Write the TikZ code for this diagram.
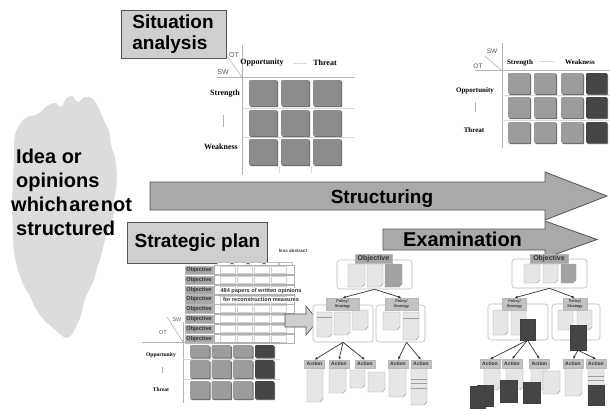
\documentclass[tikz,border=0pt]{standalone}
\usepackage{fontspec}
\setmainfont{Liberation Serif}
\setsansfont{Liberation Sans}
\usetikzlibrary{arrows.meta,calc}

\definecolor{titlefill}{HTML}{CFCFCF}
\definecolor{framecol}{HTML}{555555}
\definecolor{arrowfill}{HTML}{A9A9A9}
\definecolor{cloudfill}{HTML}{DCDCDC}
\definecolor{cellmid}{HTML}{8C8C8C}
\definecolor{celllight}{HTML}{9C9C9C}
\definecolor{celldark}{HTML}{454545}
\definecolor{cellshade}{HTML}{6A6A6A}
\definecolor{sheetfill}{HTML}{E6E6E6}
\definecolor{sheetline}{HTML}{A0A0A0}
\definecolor{sheetmid}{HTML}{A2A2A2}
\definecolor{tagfill}{HTML}{C2C2C2}
\definecolor{tagdark}{HTML}{A6A6A6}
\definecolor{axiscol}{HTML}{B4B4B4}

% bevelled matrix cell: x1 y1 x2 y2 colour
\newcommand{\cellbox}[5]{%
  \fill[cellshade, rounded corners=1pt] (#1+1.2,#2+1.2) rectangle (#3+1.2,#4+1.2);
  \fill[#5, rounded corners=1pt] (#1,#2) rectangle (#3,#4);}
% sheet of paper with a folded corner: x1 y1 x2 y2 colour
\newcommand{\sheet}[5]{%
  \filldraw[draw=sheetline, fill=#5, line width=0.4pt]
    (#1,#2) -- (#3,#2) -- (#3,#4-3) -- (#3-3,#4) -- (#1,#4) -- cycle;}

\begin{document}
\begin{tikzpicture}[x=1pt,y=-1pt,
  titlebox/.style={draw=framecol, fill=titlefill, line width=0.8pt,
    font=\sffamily\bfseries\fontsize{19}{21}\selectfont, inner sep=0pt},
  bigtext/.style={font=\sffamily\bfseries\fontsize{19}{21}\selectfont, inner sep=0pt},
  cloudtext/.style={font=\sffamily\bfseries\fontsize{20}{23}\selectfont, inner sep=0pt, anchor=base west},
  axislabel/.style={font=\bfseries\fontsize{8}{9}\selectfont, inner sep=0pt},
  smalllabel/.style={font=\bfseries\fontsize{7}{8}\selectfont, inner sep=0pt},
  tinylabel/.style={font=\bfseries\fontsize{5.5}{6}\selectfont, inner sep=0pt},
  swlabel/.style={font=\sffamily\fontsize{7}{8}\selectfont, text=black!65, inner sep=0pt},
  axisline/.style={draw=axiscol, line width=0.6pt},
  gridline/.style={draw=black!15, line width=0.5pt},
  frame/.style={draw=gray!55, line width=0.6pt, rounded corners=3pt, fill=white, inner sep=0pt},
  tag/.style={draw=gray!55, fill=tagfill, line width=0.4pt, inner sep=0pt,
    font=\sffamily\bfseries\fontsize{5}{5}\selectfont, text=black!80, align=center},
  darksheet/.style={draw=black!75, fill=celldark, line width=0.4pt, inner sep=0pt},
  conn/.style={-{Latex[length=3.2pt,width=2.6pt]}, draw=black!80, line width=0.7pt},
  blockarrow/.style={draw=framecol, fill=arrowfill, line width=0.8pt, line join=miter},
  papertext/.style={font=\sffamily\bfseries\fontsize{5.6}{6}\selectfont, fill=white, inner sep=0.4pt, text=black!80},
]
\useasboundingbox (0,0) rectangle (610,410);
\fill[white] (0,0) rectangle (610,410);

% ---------------- cloud of unstructured ideas ----------------
\fill[cloudfill] plot[smooth cycle, tension=0.55] coordinates {
  (24,119) (38,114) (47,106) (55,103) (61,107) (66,99) (72,96) (78,102)
  (85,97) (93,99) (99,109) (104,121) (109,131) (111,145) (115,158) (117,175)
  (116,190) (114,200) (114,213) (109,228) (105,240) (101,256) (97,268)
  (94,280) (88,292) (84,302) (80,318) (72,334) (66,338) (60,334) (53,328)
  (44,320) (36,309) (30,296) (24,286) (18,270) (14,252) (13,230) (12,205)
  (13,180) (14,160) (15,135)};
\node[cloudtext] (idea1) at (16,163) {Idea or};
\node[cloudtext] (idea2) at (16,187) {opinions};
\node[cloudtext] (idea3) at (11,211) {\spaceskip=1.5pt which are not};
\node[cloudtext] (idea4) at (16,235) {structured};

% ---------------- SWOT matrix (top) ----------------
\draw[axisline] (242,45) -- (242,175);
\draw[axisline] (217,77) -- (355,77);
\draw[axisline] (225,53) -- (242,77);
\draw[gridline] (243,108) -- (355,108);
\draw[gridline] (243,137.5) -- (355,137.5);
\draw[gridline] (279,166) -- (279,173);
\draw[gridline] (311,166) -- (311,173);
\foreach \x in {249,281,313}
  \foreach \y in {80,110,139}
    \cellbox{\x}{\y}{\x+28}{\y+26}{cellmid};
\node[axislabel] (opp1) at (262,63) {Opportunity};
\draw[gridline] (293,63) -- (307,63);
\node[axislabel] (thr1) at (325,63) {Threat};
\node[axislabel, anchor=east] (str1) at (240,94) {Strength};
\draw[axisline] (223,115) -- (223,127);
\node[axislabel, anchor=east] (wk1) at (238,147) {Weakness};
\node[swlabel] (ot1) at (234,55) {OT};
\node[swlabel] (sw1) at (223,72) {SW};

\node[titlebox, anchor=north west, minimum width=105pt, minimum height=48pt,
      text width=83pt, inner xsep=11pt, align=left] (sitbox) at (121,10) {Situation\\analysis};

% ---------------- SWOT matrix (top right) ----------------
\draw[axisline] (502,43) -- (502,148);
\draw[axisline] (475,70) -- (610,70);
\draw[axisline] (485,56) -- (502,71);
\draw[gridline] (502,95.5) -- (610,95.5);
\draw[gridline] (502,120) -- (610,120);
\foreach \x in {508,534,561}
  \foreach \y in {73,97,122}
    \cellbox{\x}{\y}{\x+22}{\y+21}{celllight};
\foreach \y in {73,97,122}
  \cellbox{586}{\y}{607}{\y+21}{celldark};
\node[swlabel, font=\sffamily\fontsize{6.5}{7}\selectfont] (sw2) at (492,51) {SW};
\node[swlabel, font=\sffamily\fontsize{6.5}{7}\selectfont] (ot2) at (478,66) {OT};
\node[smalllabel] (str2) at (520,63) {Strength};
\draw[gridline] (540,61) -- (555,61);
\node[smalllabel] (wk2) at (580,62) {Weakness};
\node[smalllabel] (opp2) at (475,91) {Opportunity};
\draw[axisline] (475,102) -- (475,112);
\node[smalllabel] (thr2) at (474,130) {Threat};

% ---------------- process arrows ----------------
\draw[blockarrow] (150,182) -- (545,182) -- (545,172) -- (607,196) -- (545,220)
  -- (545,210) -- (150,210) -- cycle;
\node[bigtext, anchor=base] (structuring) at (382,203) {Structuring};
\draw[blockarrow] (383,229) -- (545,229) -- (545,221) -- (597,239.5) -- (545,258)
  -- (545,250) -- (383,250) -- cycle;
\node[bigtext, font=\sffamily\bfseries\fontsize{20}{22}\selectfont, anchor=base] (examination) at (462.5,246) {Examination};

% ---------------- strategic plan ----------------
\node[titlebox, anchor=north west, minimum width=140pt, minimum height=41pt] (planbox) at (127,222) {Strategic plan};
\node[font=\sffamily\bfseries\fontsize{4.6}{5}\selectfont, inner sep=0pt, text=black!75] (lessabs) at (293,251) {less abstract};

% written opinions, filed row by row
\foreach \a in {217,233,249,265,279}
  \draw[draw=black!25, line width=0.4pt, fill=white] (\a,262) rectangle (\a+13,267.5);
\foreach \y in {270,280,290,299.5,309,319,329,339}{
  \draw[draw=black!30, line width=0.4pt, fill=white] (214,\y-4.6) rectangle (294,\y+4.6);
  \foreach \a in {220,237,254,271}
    \draw[draw=black!18, line width=0.4pt] (\a,\y-3.4) rectangle (\a+15,\y+3.4);
}
\node[papertext] (papers1) at (261,291) {484 papers of written opinions};
\node[papertext] (papers2) at (261,299.5) {for reconstruction measures};
\foreach \y [count=\i] in {270,280,290,299.5,309,319,329,339}
  \node[tag, fill=tagdark, minimum width=28pt, minimum height=8.6pt,
        font=\sffamily\bfseries\fontsize{5.6}{6}\selectfont] (spobj\i) at (199,\y) {Objective};

\draw[blockarrow, fill=titlefill, line width=0.7pt] (285,314) -- (306,314) -- (306,306) -- (318,320.5)
  -- (306,335) -- (306,327) -- (285,327) -- cycle;

% SWOT matrix (bottom left)
\draw[axisline] (183,322) -- (183,403);
\draw[axisline] (142,342) -- (280,342);
\draw[axisline] (167,317) -- (183,342);
\draw[gridline] (183,359) -- (280,359);
\draw[gridline] (183,379.5) -- (280,379.5);
\foreach \x in {190,211.5,233}{
  \cellbox{\x}{345}{\x+19.5}{357.5}{celllight};
  \cellbox{\x}{360}{\x+19.5}{378}{celllight};
  \cellbox{\x}{381}{\x+19.5}{399}{celllight};
}
\cellbox{255}{345}{274}{357.5}{celldark};
\cellbox{255}{360}{274}{378}{celldark};
\cellbox{255}{381}{274}{399}{celldark};
\node[swlabel, font=\sffamily\fontsize{5.5}{6}\selectfont] (sw3) at (177,320) {SW};
\node[swlabel, font=\sffamily\fontsize{5.5}{6}\selectfont] (ot3) at (163,333) {OT};
\node[tinylabel] (opp3) at (161,355) {Opportunity};
\draw[axisline] (162,367) -- (162,373);
\node[tinylabel] (thr3) at (161,390) {Threat};

% ---------------- hierarchy of the plan (middle) ----------------
\node[frame, minimum width=75pt, minimum height=29pt] (objc1) at (374.5,274.5) {};
\sheet{348}{264}{365}{287}{sheetfill}
\sheet{367}{264}{383}{287}{sheetfill}
\sheet{385}{264}{402}{287}{sheetmid}
\node[tag, fill=tagdark, minimum width=37pt, minimum height=9pt,
      font=\sffamily\bfseries\fontsize{7}{7}\selectfont] (obj1) at (373.5,258.5) {Objective};

\node[frame, minimum width=60pt, minimum height=37pt] (plc1) at (343,323.5) {};
\sheet{317}{312}{332}{337}{sheetfill}
\draw[sheetline, line width=0.4pt] (317,317) -- (332,317);
\sheet{334}{312}{350}{335}{sheetfill}
\sheet{352}{310}{368}{330}{sheetfill}
\node[tag, minimum width=33pt, minimum height=12pt,
      font=\sffamily\bfseries\fontsize{3.8}{4.2}\selectfont] (pl1) at (342.5,304) {Policy/\\Strategy};

\node[frame, minimum width=49pt, minimum height=37pt] (prc1) at (400.5,323.5) {};
\sheet{383}{312}{400}{330}{sheetfill}
\sheet{403}{312}{419}{340}{sheetfill}
\draw[sheetline, line width=0.4pt] (403,318) -- (419,318);
\node[tag, minimum width=33pt, minimum height=12pt,
      font=\sffamily\bfseries\fontsize{3.8}{4.2}\selectfont] (pr1) at (401.5,304) {Policy/\\Strategy};

% actions (middle)
\sheet{307}{368}{323}{402}{sheetfill}
\sheet{329}{368}{346}{393}{sheetfill}
\sheet{350}{370}{365}{388}{sheetfill}
\sheet{368}{372}{385}{392}{sheetfill}
\sheet{389}{368}{406}{397}{sheetfill}
\sheet{411}{368}{427}{405}{sheetfill}
\foreach \y in {379,383,388}
  \draw[sheetline, line width=0.4pt] (411,\y) -- (427,\y);
\node[tag, minimum width=20pt, minimum height=8pt] (a11) at (314.5,364) {Action};
\node[tag, minimum width=20pt, minimum height=8pt] (a12) at (339,364) {Action};
\node[tag, minimum width=20pt, minimum height=8pt] (a13) at (365,364) {Action};
\node[tag, minimum width=20pt, minimum height=8pt] (a14) at (398,364) {Action};
\node[tag, minimum width=20pt, minimum height=8pt] (a15) at (421,364) {Action};

\draw[conn] (objc1.south) -- (pl1.north);
\draw[conn] (objc1.south) -- (pr1.north);
\draw[conn] (plc1.south) -- (a11.north);
\draw[conn] (plc1.south) -- (a12.north);
\draw[conn] (plc1.south) -- (a13.north);
\draw[conn] ([xshift=6pt]prc1.south) -- (a14.north);
\draw[conn] ([xshift=6pt]prc1.south) -- (a15.north);

% ---------------- hierarchy after examination (right) ----------------
\node[frame, minimum width=75pt, minimum height=29pt] (objc2) at (549.5,273.5) {};
\sheet{524}{264}{540}{283}{sheetfill}
\sheet{543}{264}{558}{283}{sheetfill}
\sheet{561}{264}{576}{283}{sheetmid}
\node[tag, fill=tagdark, minimum width=38pt, minimum height=9pt,
      font=\sffamily\bfseries\fontsize{7}{7}\selectfont] (obj2) at (549,258.5) {Objective};

\node[frame, minimum width=60pt, minimum height=36pt] (plc2) at (518,322) {};
\sheet{493}{310}{508}{335}{sheetfill}
\sheet{511}{310}{526}{335}{sheetfill}
\node[darksheet, minimum width=15pt, minimum height=21pt] (dk1) at (527.5,329.5) {};
\node[tag, minimum width=24pt, minimum height=12pt,
      font=\sffamily\bfseries\fontsize{3.8}{4.2}\selectfont] (pl2) at (514.5,304) {Policy/\\Strategy};

\node[frame, minimum width=48pt, minimum height=36pt] (prc2) at (576,322) {};
\sheet{558}{310}{573}{330}{sheetfill}
\sheet{577}{310}{592}{330}{sheetfill}
\node[darksheet, minimum width=16pt, minimum height=25pt] (dk2) at (578,337.5) {};
\node[tag, minimum width=24pt, minimum height=12pt,
      font=\sffamily\bfseries\fontsize{3.8}{4.2}\selectfont] (pr2) at (575,304) {Policy/\\Strategy};

% actions (right)
\sheet{484}{368}{500}{390}{sheetfill}
\sheet{506}{368}{523}{390}{sheetfill}
\sheet{531}{368}{547}{390}{sheetfill}
\sheet{543}{371}{560}{394}{sheetfill}
\sheet{565}{368}{582}{396}{sheetfill}
\sheet{588}{368}{604}{405}{sheetfill}
\foreach \y in {376,380}
  \draw[sheetline, line width=0.4pt] (588,\y) -- (604,\y);
\node[darksheet, minimum width=16pt, minimum height=21pt] (dka) at (485,395.5) {};
\node[darksheet, minimum width=15pt, minimum height=22pt] (dkb) at (478,397) {};
\node[darksheet, minimum width=17pt, minimum height=22pt] (dkc) at (508.5,391) {};
\node[darksheet, minimum width=17pt, minimum height=21pt] (dkd) at (531.5,392.5) {};
\node[darksheet, minimum width=16pt, minimum height=20pt] (dke) at (596,395) {};
\node[tag, minimum width=20pt, minimum height=8.5pt] (a21) at (490,363.5) {Action};
\node[tag, minimum width=20pt, minimum height=8.5pt] (a22) at (512,363.5) {Action};
\node[tag, minimum width=20pt, minimum height=8.5pt] (a23) at (539.5,363.5) {Action};
\node[tag, minimum width=20pt, minimum height=8.5pt] (a24) at (573,363.5) {Action};
\node[tag, minimum width=20pt, minimum height=8.5pt] (a25) at (596,363.5) {Action};

\draw[conn] (objc2.south) -- (pl2.north);
\draw[conn] (objc2.south) -- (pr2.north);
\draw[conn] (dk1.south) -- (a21.north);
\draw[conn] (dk1.south) -- (a22.north);
\draw[conn] (dk1.south) -- (a23.north);
\draw[conn] (dk2.south) -- (a24.north);
\draw[conn] (dk2.south) -- (a25.north);
\end{tikzpicture}
\end{document}
